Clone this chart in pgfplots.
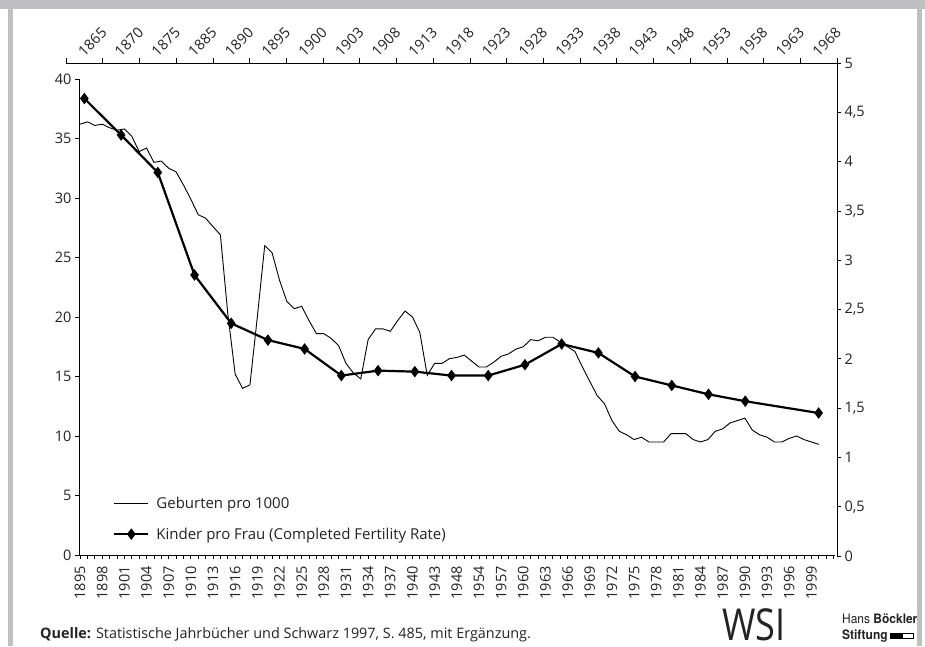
\documentclass[border=0pt]{standalone}
\usepackage{pgfplots}
\pgfplotsset{compat=1.18}
\usepackage{fontspec}
\setmainfont{Open Sans}
\newfontfamily\heros[FakeStretch=0.92]{TeX Gyre Heros}
\newfontfamily\wsifont[FakeStretch=0.82]{Open Sans}
\definecolor{framegray}{RGB}{192,192,194}
\definecolor{txt}{RGB}{35,35,35}

\pgfplotstableread{
i v
0 36.2
1 36.4
2 36.1
3 36.2
4 35.9
5 35.7
6 35.8
7 35.2
8 33.9
9 34.2
10 33.0
11 33.1
12 32.5
13 32.2
14 31.1
15 29.9
16 28.6
17 28.3
18 27.6
19 26.9
20 20.3
21 15.2
22 14.0
23 14.3
24 20.0
25 26.0
26 25.4
27 23.1
28 21.3
29 20.7
30 20.9
31 19.7
32 18.6
33 18.6
34 18.2
35 17.6
36 16.1
37 15.3
38 14.8
39 18.1
40 19.0
41 19.0
42 18.8
43 19.7
44 20.5
45 20.0
46 18.7
47 15.1
48 16.1
49 16.1
50 16.5
51 16.6
52 16.8
53 16.3
54 15.8
55 15.8
56 16.2
57 16.7
58 16.9
59 17.3
60 17.5
61 18.1
62 18.0
63 18.3
64 18.3
65 17.9
66 17.5
67 17.1
68 15.8
69 14.6
70 13.4
71 12.7
72 11.3
73 10.4
74 10.1
75 9.7
76 9.9
77 9.5
78 9.5
79 9.5
80 10.2
81 10.2
82 10.2
83 9.7
84 9.5
85 9.7
86 10.4
87 10.6
88 11.1
89 11.3
90 11.5
91 10.5
92 10.1
93 9.9
94 9.5
95 9.5
96 9.8
97 10.0
98 9.7
99 9.5
100 9.3
}\births

\pgfplotstableread{
i v
0.5 4.64
1.5 4.27
2.5 3.89
3.5 2.85
4.5 2.36
5.5 2.19
6.5 2.10
7.5 1.83
8.5 1.88
9.5 1.87
10.5 1.83
11.5 1.83
12.5 1.94
13.5 2.15
14.5 2.06
15.5 1.82
16.5 1.73
17.5 1.64
18.5 1.57
20.5 1.45
}\fert

\begin{document}
\begin{tikzpicture}
\useasboundingbox (0,0) rectangle (925pt,-646pt);
\fill[white] (0,0) rectangle (925pt,-646pt);
\fill[framegray] (0,0) rectangle (925pt,-9pt);
\fill[framegray] (8pt,0) rectangle (13pt,-646pt);
\fill[framegray] (917pt,0) rectangle (922pt,-646pt);

\begin{axis}[
  at={(79pt,-555pt)}, anchor=south west, scale only axis,
  width=756pt, height=476pt,
  xmin=-0.14, xmax=102.2, ymin=0, ymax=40,
  axis x line*=bottom, axis y line*=left,
  axis line style={black, line width=0.8pt},
  xtick={0,3,...,99},
  xticklabels={1895,1898,1901,1904,1907,1910,1913,1916,1919,1922,1925,1928,1931,1934,1937,1940,1943,1948,1954,1957,1960,1963,1966,1969,1972,1975,1978,1981,1984,1987,1990,1993,1996,1999},
  minor xtick={0,...,102},
  ytick={0,5,...,40},
  tick align=outside, major tick length=4pt, minor tick length=4pt,
  tick style={black, line width=0.7pt},
  xticklabel style={rotate=90, anchor=east, inner xsep=7pt, inner ysep=2pt},
  ticklabel style={font=\fontsize{14.5}{16}\selectfont, text=txt},
  /pgf/number format/assume math mode=true,
  legend style={at={(0.045,0.127)}, anchor=north west, draw=none, fill=none,
    font=\fontsize{15}{17}\selectfont, text=txt, row sep=14pt, inner sep=0pt,
    /tikz/every odd column/.append style={column sep=5pt}},
  legend cell align=left,
  legend image code/.code={\draw[mark repeat=2, mark phase=2, #1] plot coordinates {(0pt,0pt) (17pt,0pt) (34pt,0pt)};},
]
\addplot[black, line width=0.9pt, mark=none] table[x=i, y=v] {\births};
\addlegendentry{Geburten pro 1000}
\addlegendimage{black, line width=2.2pt, mark=diamond*, mark size=4pt}
\addlegendentry{Kinder pro Frau (Completed Fertility Rate)}
\end{axis}

\begin{axis}[
  at={(66pt,-556pt)}, anchor=south west, scale only axis,
  width=771pt, height=493pt,
  xmin=0, xmax=21, ymin=0, ymax=5,
  axis x line*=top, axis y line*=right,
  axis line style={black, line width=0.8pt},
  xtick={0.5,1.5,2.5,3.5,4.5,5.5,6.5,7.5,8.5,9.5,10.5,11.5,12.5,13.5,14.5,15.5,16.5,17.5,18.5,19.5,20.5},
  xticklabels={1865,1870,1875,1885,1890,1895,1900,1903,1908,1913,1918,1923,1928,1933,1938,1943,1948,1953,1958,1963,1968},
  minor xtick={0,...,21},
  major x tick style={draw=none},
  tick align=outside, major tick length=4pt, minor tick length=5pt,
  tick style={black, line width=0.7pt},
  xticklabel style={rotate=45, anchor=south west, inner sep=1pt},
  ytick={0,0.5,1,1.5,2,2.5,3,3.5,4,4.5,5},
  yticklabel style={/pgf/number format/.cd, use comma, fixed},
  ticklabel style={font=\fontsize{14.5}{16}\selectfont, text=txt},
  /pgf/number format/assume math mode=true,
]
\addplot[black, line width=2.2pt, mark=diamond*, mark size=4pt, mark options={solid}] table[x=i, y=v] {\fert};
\end{axis}

\node[anchor=base west, inner sep=0pt, font=\fontsize{14.4}{16}\selectfont, text=txt] at (40pt,-638pt)
  {\textbf{Quelle:} Statistische Jahrbücher und Schwarz 1997, S.~485, mit Ergänzung.};
\node[anchor=base west, inner sep=0pt, text depth=0pt, font=\wsifont\fontsize{44}{44}\selectfont, text=txt] at (722pt,-640pt) {WSI};
\node[anchor=base west, inner sep=0pt, font=\heros\fontsize{13}{14}\selectfont, text=txt] at (842pt,-623pt) {Hans \textbf{Böckler}};
\node[anchor=base west, inner sep=0pt, font=\heros\fontsize{13}{14}\selectfont, text=txt] at (842pt,-639pt) {\textbf{Stiftung}};
\fill[black] (890pt,-633pt) rectangle (902pt,-639pt);
\draw[black, line width=0.8pt] (902pt,-633.4pt) rectangle (913pt,-638.6pt);
\end{tikzpicture}
\end{document}
